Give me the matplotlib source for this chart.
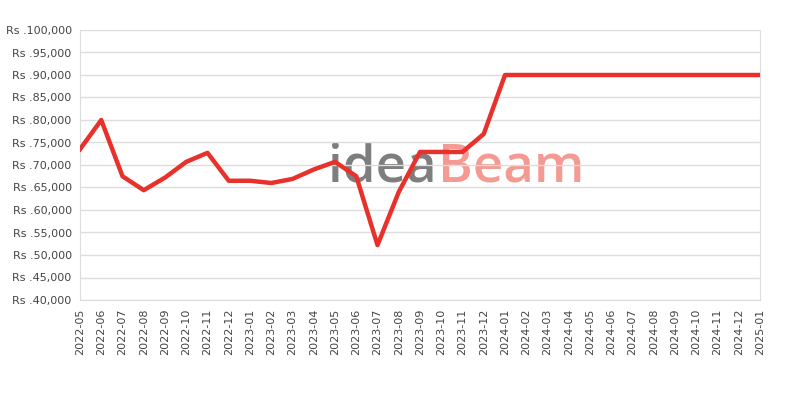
import numpy as np
import matplotlib.pyplot as plt

months = ['2022-05', '2022-06', '2022-07', '2022-08', '2022-09', '2022-10', '2022-11',
          '2022-12', '2023-01', '2023-02', '2023-03', '2023-04', '2023-05', '2023-06',
          '2023-07', '2023-08', '2023-09', '2023-10', '2023-11', '2023-12', '2024-01',
          '2024-02', '2024-03', '2024-04', '2024-05', '2024-06', '2024-07', '2024-08',
          '2024-09', '2024-10', '2024-11', '2024-12', '2025-01']
prices = [73500, 80000, 67500, 64400, 67200, 70700, 72700,
          66500, 66500, 66000, 66900, 69000, 70700, 67500,
          52200, 64000, 72900, 72900, 72900, 76900, 90000,
          90000, 90000, 90000, 90000, 90000, 90000, 90000,
          90000, 90000, 90000, 90000, 90000]
yticks = np.arange(40000, 100001, 5000)

fig = plt.figure(figsize=(8, 4), dpi=100)
ax = fig.add_axes([0.1, 0.25, 0.85, 0.675])

x = np.arange(len(months))

# watermark (logo text)
ax.text(0.525, 0.49, 'idea', transform=ax.transAxes, fontsize=38, color='#777777',
        family='Open Sans', fontweight='semibold', alpha=0.95, ha='right', va='center', zorder=0.2)
ax.text(0.527, 0.49, 'Beam', transform=ax.transAxes, fontsize=38, color='#f4958d',
        family='Open Sans', fontweight='semibold', alpha=0.95, ha='left', va='center', zorder=0.2)

ax.plot(x, prices, color='#e8312a', linewidth=3.2, zorder=3)

ax.set_xlim(0, len(months) - 1)
ax.set_ylim(40000, 100000)
ax.set_yticks(yticks)
ax.set_yticklabels(['Rs .{:,}'.format(v) for v in yticks])
ax.set_xticks(x)
ax.set_xticklabels(months, rotation=90)
ax.tick_params(length=0, labelsize=8, colors='#444444', pad=6)
ax.grid(axis='y', color='#dddddd', linewidth=1, zorder=0.5)
ax.set_axisbelow(True)
for s in ax.spines.values():
    s.set_color('#dddddd')
ax.spines['top'].set_visible(False)

fig.savefig('out.png', dpi=100)
